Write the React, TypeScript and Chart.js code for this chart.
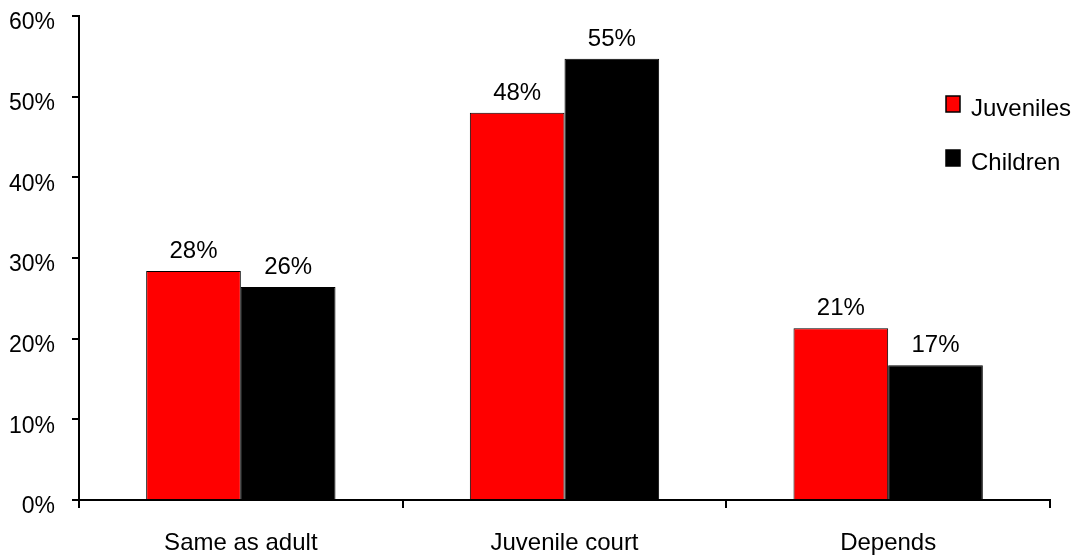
import { useEffect, useRef } from "react";
import { Chart, registerables } from "chart.js";

Chart.register(...registerables);

const categories = ["Same as adult", "Juvenile court", "Depends"];
const juveniles = [28.4, 48.0, 21.3];
const children = [26.4, 54.7, 16.7];
const juvenileLabels = ["28%", "48%", "21%"];
const childrenLabels = ["26%", "55%", "17%"];
const seriesNames = ["Juveniles", "Children"];
const yTicks = [0, 10, 20, 30, 40, 50, 60];

const FONT = "'Liberation Sans', Arial, Helvetica, sans-serif";
const FS = 24;

const labelPlugin = {
  id: "valueLabels",
  afterDatasetsDraw(chart: any) {
    const ctx = chart.ctx;
    ctx.save();
    ctx.font = `${FS}px ${FONT}`;
    ctx.fillStyle = "#000";
    ctx.textAlign = "center";
    ctx.textBaseline = "alphabetic";
    const labelSets = [juvenileLabels, childrenLabels];
    chart.data.datasets.forEach((_: any, di: number) => {
      const meta = chart.getDatasetMeta(di);
      meta.data.forEach((bar: any, i: number) => {
        ctx.fillText(labelSets[di][i], bar.x, bar.y - 13);
      });
    });
    ctx.restore();
  },
};

const legendPlugin = {
  id: "customLegend",
  afterDraw(chart: any) {
    const ctx = chart.ctx;
    ctx.save();
    const items = [
      { name: seriesNames[0], fill: "#FF0000", y: 96 },
      { name: seriesNames[1], fill: "#000000", y: 150 },
    ];
    items.forEach((it) => {
      ctx.fillStyle = it.fill;
      ctx.fillRect(946, it.y, 14, 16);
      ctx.strokeStyle = "#000";
      ctx.lineWidth = 1.5;
      ctx.strokeRect(946, it.y, 14, 16);
      ctx.fillStyle = "#000";
      ctx.font = `${FS}px ${FONT}`;
      ctx.textAlign = "left";
      ctx.textBaseline = "alphabetic";
      ctx.fillText(it.name, 971, it.y + 20);
    });
    ctx.restore();
  },
};

export default function App() {
  const ref = useRef<HTMLCanvasElement | null>(null);
  useEffect(() => {
    if (!ref.current) return;
    const chart = new Chart(ref.current, {
      type: "bar",
      data: {
        labels: categories,
        datasets: [
          {
            label: seriesNames[0],
            data: juveniles,
            backgroundColor: "#FF0000",
            borderColor: "#000000",
            borderWidth: 1,
            categoryPercentage: 0.585,
            barPercentage: 1,
          },
          {
            label: seriesNames[1],
            data: children,
            backgroundColor: "#000000",
            borderColor: "#000000",
            borderWidth: 1,
            categoryPercentage: 0.585,
            barPercentage: 1,
          },
        ],
      },
      options: {
        animation: false,
        responsive: false,
        maintainAspectRatio: false,
        layout: { padding: { top: 16, right: 27, left: 0, bottom: 0 } },
        plugins: {
          legend: { display: false },
          tooltip: { enabled: false },
          title: { display: false },
        },
        scales: {
          x: {
            grid: {
              offset: true,
              drawOnChartArea: false,
              drawTicks: true,
              tickLength: 8,
              color: "#000",
              lineWidth: 2,
            },
            border: { display: true, color: "#000", width: 2 },
            ticks: {
              color: "#000",
              font: { family: FONT, size: FS },
              padding: 21,
              maxRotation: 0,
            },
            afterFit(scale: any) {
              scale.height = 56;
              scale.paddingLeft = 0;
              scale.paddingRight = 0;
            },
          },
          y: {
            min: 0,
            max: 60,
            afterBuildTicks(scale: any) {
              scale.ticks = yTicks.map((v) => ({ value: v }));
            },
            grid: {
              drawOnChartArea: false,
              drawTicks: true,
              tickLength: 7,
              color: "#000",
              lineWidth: 2,
            },
            border: { display: true, color: "#000", width: 2 },
            ticks: {
              color: "#000",
              font: { family: FONT, size: 23 },
              padding: 17,
              labelOffset: 7,
              callback: (v: any) => `${v}%`,
            },
            afterFit(scale: any) {
              scale.width = 79;
              scale.paddingTop = 0;
              scale.paddingBottom = 0;
            },
          },
        },
      },
      plugins: [labelPlugin, legendPlugin],
    });
    return () => chart.destroy();
  }, []);
  return (
    <div style={{ position: "fixed", left: 0, top: 0, width: 1077, height: 556, background: "#fff" }}>
      <canvas ref={ref} width={1077} height={556} style={{ width: 1077, height: 556, display: "block" }} />
    </div>
  );
}
